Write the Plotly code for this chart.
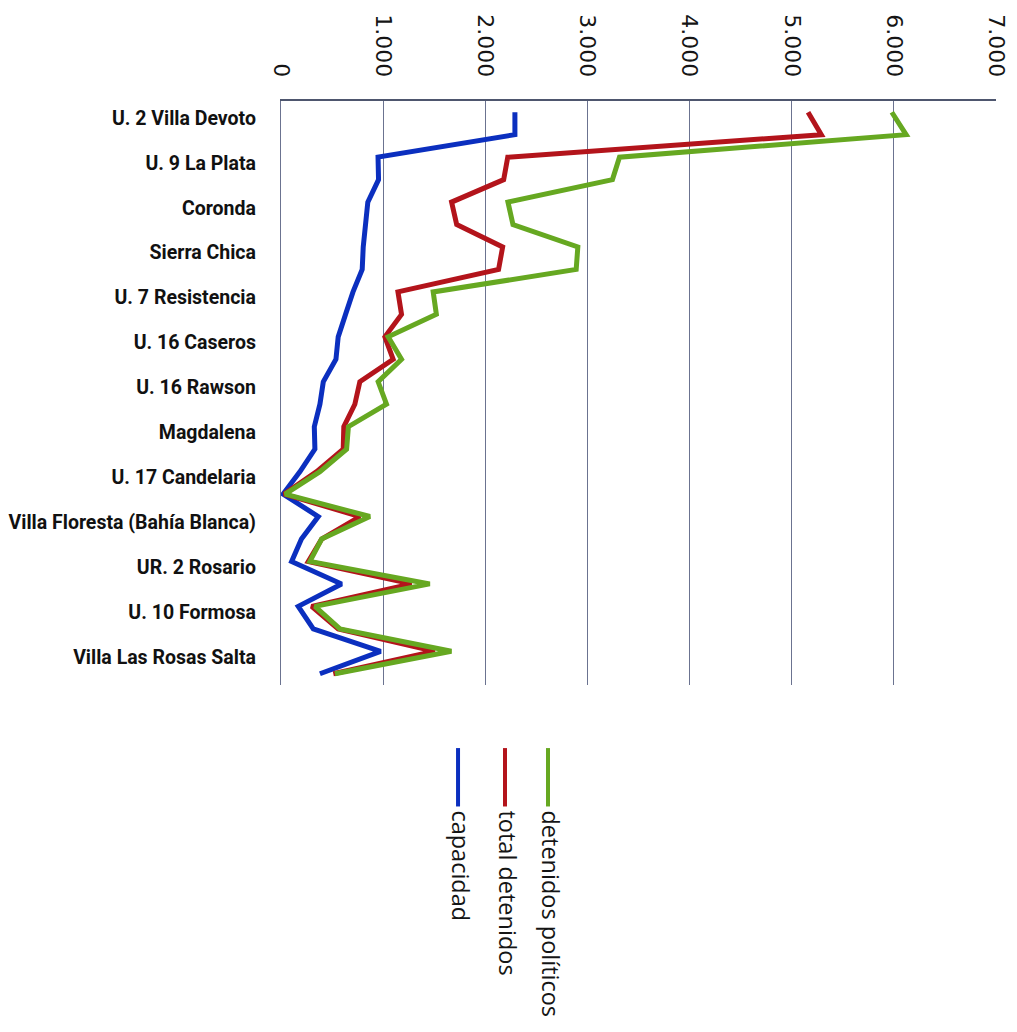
import plotly.graph_objects as go

# Prison units (labels appear on every other category row)
unit_labels = [
    "U. 2 Villa Devoto", "U. 9 La Plata", "Coronda", "Sierra Chica",
    "U. 7 Resistencia", "U. 16 Caseros", "U. 16 Rawson", "Magdalena",
    "U. 17 Candelaria", "Villa Floresta (Bahía Blanca)", "UR. 2 Rosario",
    "U. 10 Formosa", "Villa Las Rosas Salta",
]

# 26 category rows, one per plotted point
n_rows = 26
rows = list(range(n_rows))

capacidad = [2290, 2290, 950, 955, 850, 827, 805, 795, 705, 632,
             560, 538, 414, 381, 326, 332, 186, 20, 365, 200,
             104, 593, 169, 316, 975, 381]

total_detenidos = [5160, 5290, 2220, 2180, 1670, 1720, 2170, 2130, 1145, 1180,
                   1017, 1098, 772, 723, 615, 609, 349, 30, 772, 398,
                   267, 1277, 300, 560, 1505, 512]

detenidos_politicos = [5980, 6120, 3314, 3245, 2222, 2271, 2906, 2890, 1490, 1521,
                       1049, 1180, 951, 1033, 660, 642, 381, 40, 870, 398,
                       283, 1456, 332, 577, 1668, 528]

series_names = ["capacidad", "total detenidos", "detenidos políticos"]
series_values = [capacidad, total_detenidos, detenidos_politicos]
series_colors = ["#0b2fbf", "#b3141b", "#66a821"]

value_ticks = [0, 1000, 2000, 3000, 4000, 5000, 6000, 7000]
value_tick_text = ["0", "1.000", "2.000", "3.000", "4.000", "5.000", "6.000", "7.000"]

fig = go.Figure()

for name, vals, color in zip(series_names, series_values, series_colors):
    fig.add_trace(go.Scatter(
        x=vals, y=rows, mode="lines", name=name,
        line=dict(color=color, width=5),
        showlegend=False,
    ))

grid_color = "#6b7390"

# unit labels sit a little below their rows
label_pos = [r + 0.25 for r in rows[::2]]

fig.update_layout(
    width=1017, height=1032,
    margin=dict(l=281, r=21, t=101, b=347),
    paper_bgcolor="white", plot_bgcolor="white",
    xaxis=dict(
        side="top", range=[0, 7000],
        tickvals=value_ticks, ticktext=value_tick_text,
        tickangle=90, ticks="", automargin=False,
        tickfont=dict(family="DejaVu Sans", size=22, color="#151515"),
        showgrid=True, gridcolor=grid_color, gridwidth=1.3,
        showline=True, linecolor="#4e566e", linewidth=2,
        zeroline=False, ticklabelstandoff=14,
    ),
    yaxis=dict(
        range=[n_rows - 0.5, -0.5],
        tickvals=label_pos, ticktext=unit_labels,
        ticks="", showgrid=False, zeroline=False, automargin=False,
        tickfont=dict(family="Roboto", size=19.5,
                      color="#111111", weight="bold"),
        showline=True, linecolor=grid_color, linewidth=1.3,
        ticklabelstandoff=20,
    ),
)

# Vertical legend below the plot: a short line over rotated text
legend_x = [0.2476, 0.3133, 0.3734]
for name, color, lx in zip(series_names, series_colors, legend_x):
    fig.add_shape(
        type="line", xref="paper", yref="paper",
        x0=lx, x1=lx, y0=-0.108, y1=-0.208,
        line=dict(color=color, width=4),
    )
    fig.add_annotation(
        xref="paper", yref="paper", x=lx + 0.004, y=-0.212,
        text=name, showarrow=False, textangle=90,
        xanchor="center", yanchor="top",
        font=dict(family="Open Sans", size=23.5, color="#151515"),
    )

fig.write_html("out.html")
